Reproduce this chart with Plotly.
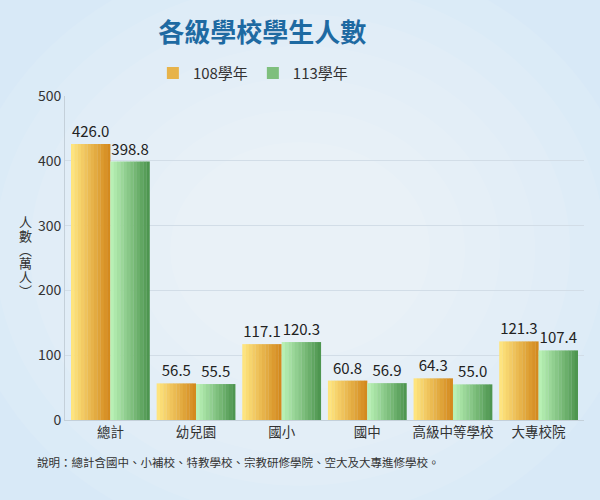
import plotly.graph_objects as go

categories = ['總計', '幼兒園', '國小', '國中', '高級中等學校', '大專校院']
students_108 = [426.0, 56.5, 117.1, 60.8, 64.3, 121.3]
students_113 = [398.8, 55.5, 120.3, 56.9, 55.0, 107.4]
series_names = ['108學年', '113學年']
y_ticks = [0, 100, 200, 300, 400, 500]

TITLE = '各級學校學生人數'
Y_TITLE = '人數︵萬人︶'
NOTE = '說明：總計含國中、小補校、特教學校、宗教研修學院、空大及大專進修學校。'

FONT = 'Noto Sans CJK TC, Noto Sans, sans-serif'
BAR_W = 0.46
SLICES = 12

# left -> right colour stops for the horizontal gradient
grads = [
    ((254, 228, 126), (212, 138, 30)),
    ((184, 240, 180), (78, 150, 80)),
]


def mix(c0, c1, t):
    return 'rgb(%d,%d,%d)' % tuple(round(a + (b - a) * t) for a, b in zip(c0, c1))


fig = go.Figure()

for s, (name, vals) in enumerate(zip(series_names, [students_108, students_113])):
    base = -BAR_W + s * BAR_W
    step = BAR_W / SLICES
    c0, c1 = grads[s]
    for i in range(SLICES):
        t = i / (SLICES - 1)
        w = step * 1.08 if i < SLICES - 1 else step
        fig.add_trace(go.Bar(
            x=categories, y=vals,
            offset=base + i * step, width=w,
            marker=dict(color=mix(c0, c1, t), line=dict(width=0)),
            name=name, legendgroup=name,
            showlegend=(i == SLICES // 2),
            hoverinfo='skip' if i != SLICES // 2 else None,
        ))
    # transparent carrier for value labels
    fig.add_trace(go.Bar(
        x=categories, y=vals,
        offset=base, width=BAR_W,
        marker=dict(color='rgba(0,0,0,0)', line=dict(width=0)),
        texttemplate='%{y:.1f}', textposition='outside',
        textfont=dict(size=15, color='#222222', family=FONT),
        cliponaxis=False, showlegend=False, hoverinfo='skip',
    ))

# soft radial glow for the background (paper coords: plot area is 519x324 px)
PW, PH = 519.0, 324.0
cx, cy = 0.453, 0.525
for k in range(7):
    rx = (340 - k * 35) / PW
    ry = (300 - k * 32) / PH
    fig.add_shape(
        type='circle', xref='paper', yref='paper',
        x0=cx - rx, x1=cx + rx, y0=cy - ry, y1=cy + ry,
        fillcolor='rgba(255,255,255,0.09)', line=dict(width=0), layer='below',
    )

# vertical y-axis title, one character per line
for i, ch in enumerate(Y_TITLE):
    fig.add_annotation(
        text=ch, xref='paper', yref='paper', x=-0.077, y=0.506,
        xanchor='center', yanchor='middle',
        yshift=-(i - 2.5) * 13.8, showarrow=False,
        font=dict(size=13, color='#333333', family=FONT),
    )

fig.add_annotation(
    text=NOTE, xref='paper', yref='paper', x=-0.058, y=-0.13,
    xanchor='left', yanchor='middle', showarrow=False,
    font=dict(size=11.5, color='#333333', family=FONT),
)

fig.update_layout(
    width=600, height=500,
    barmode='overlay',
    paper_bgcolor='#d8e9f7',
    plot_bgcolor='rgba(0,0,0,0)',
    margin=dict(l=65, r=16, t=96, b=80),
    font=dict(family=FONT, color='#333333'),
    title=dict(
        text='<b>' + TITLE + '</b>', xref='paper', x=0.38, xanchor='center',
        yref='container', y=0.934, yanchor='middle',
        font=dict(size=26, color='#1e6aa2', family=FONT),
    ),
    legend=dict(
        orientation='h', x=0.362, xanchor='center', y=1.07, yanchor='middle',
        font=dict(size=15, color='#333333'), bgcolor='rgba(0,0,0,0)',
        itemwidth=30, traceorder='normal',
    ),
    xaxis=dict(
        range=[-0.53, 5.53], showgrid=False,
        showline=True, linecolor='#c4d0da', linewidth=1,
        ticks='', tickfont=dict(size=13.5, color='#333333'),
    ),
    yaxis=dict(
        range=[0, 500], tickvals=y_ticks,
        showgrid=True, gridcolor='#d2dde7', gridwidth=1,
        showline=True, linecolor='#c4d0da', linewidth=1,
        zeroline=False, ticks='', tickfont=dict(size=14, color='#333333'),
    ),
    showlegend=True,
)

fig.write_html(
    'out.html',
    config={'displayModeBar': False},
    post_script="document.body.style.margin='0';",
)
